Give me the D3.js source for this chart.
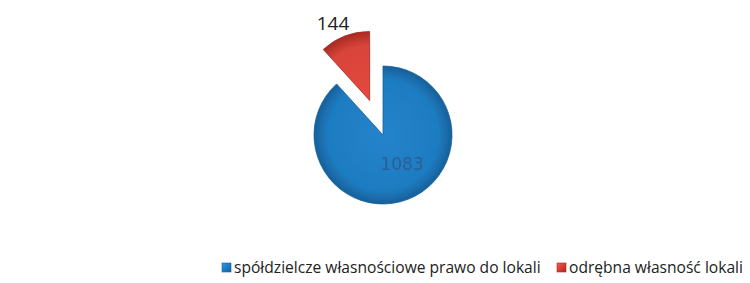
<!DOCTYPE html>
<html>
<head>
<meta charset="utf-8">
<script src="https://cdn.jsdelivr.net/npm/d3@7"></script>
<style>
  body { margin: 0; background: #fff; }
  svg { display: block; }
</style>
</head>
<body>
<svg id="chart" width="750" height="283"></svg>
<script>
// data
const categories = ["spółdzielcze własnościowe prawo do lokali", "odrębna własność lokali"];
const values = [1083, 144];
const colors = ["#1f7cc1", "#d8443a"];
const edgeColors = ["#17609a", "#a82a22"];

const svg = d3.select("#chart");
const cx = 383, cy = 135, radius = 69;
const explode = 37;

const defs = svg.append("defs");
colors.forEach((c, i) => {
  const g = defs.append("radialGradient")
    .attr("id", "grad" + i)
    .attr("gradientUnits", "userSpaceOnUse")
    .attr("cx", 0).attr("cy", 0).attr("r", radius);
  g.append("stop").attr("offset", "0%").attr("stop-color", d3.color(c).brighter(0.15));
  g.append("stop").attr("offset", "80%").attr("stop-color", c);
  g.append("stop").attr("offset", "100%").attr("stop-color", edgeColors[i]);

  const lg = defs.append("linearGradient").attr("id", "lg" + i)
    .attr("x1", 0).attr("y1", 0).attr("x2", 1).attr("y2", 1);
  lg.append("stop").attr("offset", "0%").attr("stop-color", d3.color(c).brighter(0.6));
  lg.append("stop").attr("offset", "100%").attr("stop-color", edgeColors[i]);
});
const blur = defs.append("filter").attr("id", "soft");
blur.append("feGaussianBlur").attr("stdDeviation", 0.6);

const data = categories.map((c, i) => ({ name: c, value: values[i], i }));

const pie = d3.pie()
  .value(d => d.value)
  .sort(null)
  .startAngle(0)
  .endAngle(2 * Math.PI);

const arc = d3.arc().innerRadius(0).outerRadius(radius);
const arcs = pie(data);

// the small slice is pulled out along its middle angle
function offset(d) {
  if (d.data.i !== 1) return [0, 0];
  const a = (d.startAngle + d.endAngle) / 2;
  return [Math.sin(a) * explode, -Math.cos(a) * explode];
}

const g = svg.append("g").attr("transform", `translate(${cx},${cy})`);

g.selectAll("path.slice")
  .data(arcs)
  .join("path")
  .attr("class", "slice")
  .attr("transform", d => `translate(${offset(d)})`)
  .attr("d", arc)
  .attr("fill", d => `url(#grad${d.data.i})`)
  .attr("stroke", d => edgeColors[d.data.i])
  .attr("stroke-width", 0.8)
  .attr("filter", "url(#soft)");

// value labels
g.append("text")
  .datum(arcs[0])
  .attr("x", 19)
  .attr("y", 35)
  .attr("text-anchor", "middle")
  .style("font-family", "'DejaVu Sans', sans-serif")
  .style("font-size", "17px")
  .style("fill", "#2a5f94")
  .attr("filter", "url(#soft)")
  .text(d => d.data.value);

g.append("text")
  .datum(arcs[1])
  .attr("x", -50)
  .attr("y", -105)
  .attr("text-anchor", "middle")
  .style("font-family", "'Open Sans', sans-serif")
  .style("font-size", "19px")
  .style("fill", "#222")
  .text(d => d.data.value);

// legend
const legend = svg.append("g").attr("transform", "translate(222,273)");
const legendX = [0, 335];
const items = legend.selectAll("g")
  .data(data)
  .join("g")
  .attr("transform", (d, i) => `translate(${legendX[i]},0)`);

items.append("rect")
  .attr("x", 0).attr("y", -10)
  .attr("width", 9).attr("height", 9)
  .attr("fill", d => `url(#lg${d.i})`)
  .attr("stroke", d => edgeColors[d.i])
  .attr("stroke-width", 0.6);

items.append("text")
  .attr("x", 12)
  .attr("y", 0)
  .style("font-family", "'Open Sans', sans-serif")
  .style("font-size", "15.6px")
  .style("fill", "#222")
  .text(d => d.name);
</script>
</body>
</html>
